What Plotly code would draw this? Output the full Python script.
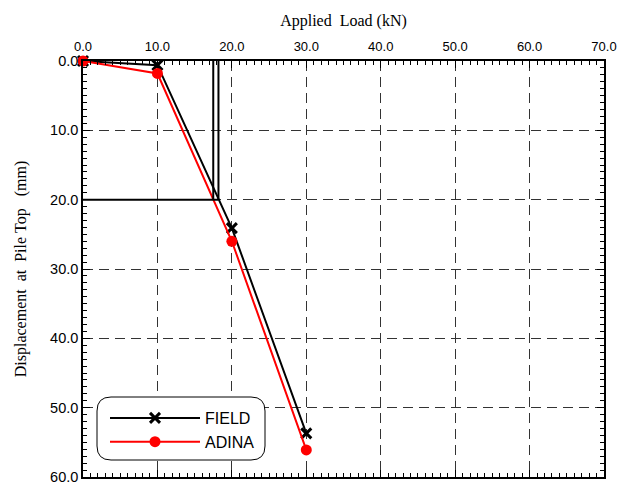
import plotly.graph_objects as go

load = [0.0, 10.0, 20.0, 30.0]
field_disp = [0.0, 0.6, 24.1, 53.7]
adina_disp = [0.0, 1.8, 26.0, 56.1]

# construction lines
vline_x = [17.5, 18.2]
vline_y = [0.0, 20.0]
hline_y = 20.0
hline_x = [0.0, 18.2]

x_ticks = [0, 10, 20, 30, 40, 50, 60, 70]
y_ticks = [0, 10, 20, 30, 40, 50, 60]

NB = "\u00a0"

fig = go.Figure()
fig.add_trace(go.Scatter(x=load, y=field_disp, mode="lines+markers", name="FIELD",
                         cliponaxis=False,
                         line=dict(color="black", width=2),
                         marker=dict(symbol="x-thin", size=10, color="black",
                                     line=dict(width=3, color="black"))))
fig.add_trace(go.Scatter(x=load, y=adina_disp, mode="lines+markers", name="ADINA",
                         cliponaxis=False,
                         line=dict(color="#ff0000", width=2),
                         marker=dict(symbol="circle", size=11, color="#ff0000")))

for vx in vline_x:
    fig.add_shape(type="line", x0=vx, x1=vx, y0=vline_y[0], y1=vline_y[1],
                  xref="x", yref="y", line=dict(color="black", width=2))
fig.add_shape(type="line", x0=hline_x[0], x1=hline_x[1], y0=hline_y, y1=hline_y,
              xref="x", yref="y", line=dict(color="black", width=2))

# rounded legend box (pixel geometry -> paper coords)
x0, x1, y0, y1, r = 97, 265, 397, 460, 14
L, R, T, B = 83, 604, 61, 477
def fx(x): return (x - L) / (R - L)
def fy(y): return (B - y) / (B - T)
path = (f"M {fx(x0+r)},{fy(y0)} L {fx(x1-r)},{fy(y0)} Q {fx(x1)},{fy(y0)} {fx(x1)},{fy(y0+r)} "
        f"L {fx(x1)},{fy(y1-r)} Q {fx(x1)},{fy(y1)} {fx(x1-r)},{fy(y1)} L {fx(x0+r)},{fy(y1)} "
        f"Q {fx(x0)},{fy(y1)} {fx(x0)},{fy(y1-r)} L {fx(x0)},{fy(y0+r)} Q {fx(x0)},{fy(y0)} {fx(x0+r)},{fy(y0)} Z")
fig.add_shape(type="path", path=path, xref="paper", yref="paper",
              line=dict(color="black", width=1), fillcolor="white", layer="above")

axis_common = dict(
    showline=True, linecolor="black", linewidth=1.5, mirror="ticks",
    ticks="inside", ticklen=7, tickwidth=1, tickcolor="black",
    showgrid=True, gridcolor="#333333", gridwidth=1, griddash="10px,6px",
    zeroline=False, automargin=False, ticklabeloverflow="allow",
    minor=dict(ticks="inside", ticklen=4, dtick=1, tickcolor="black", showgrid=False),
)

title_font = dict(family="Liberation Serif, Times New Roman", size=16, color="black")

fig.update_layout(
    width=628, height=484,
    margin=dict(l=83, r=24, t=61, b=7),
    paper_bgcolor="white", plot_bgcolor="white",
    xaxis=dict(axis_common, side="top", range=[0, 70], tickvals=x_ticks,
               ticktext=[f"{v:.1f}" for v in x_ticks], ticklabelstandoff=3,
               tickfont=dict(family="Liberation Sans, Arial", size=13, color="black"),
               title=dict(text=f"Applied{NB}{NB}Load (kN)", standoff=8, font=title_font)),
    yaxis=dict(axis_common, range=[60, 0], tickvals=y_ticks,
               ticktext=[f"{v:.1f}" for v in y_ticks],
               tickfont=dict(family="Liberation Sans, Arial", size=14.5, color="black"),
               title=dict(text=f"Displacement{NB}{NB}at{NB}{NB}Pile{NB}Top{NB}{NB}{NB}(mm)",
                          standoff=20, font=title_font)),
    legend=dict(x=fx(105), y=fy(401), xanchor="left", yanchor="top",
                bgcolor="rgba(0,0,0,0)", borderwidth=0, itemwidth=90,
                font=dict(family="Liberation Sans, Arial", size=16, color="black"),
                tracegroupgap=0),
    showlegend=True,
)

fig.write_html("out.html")
